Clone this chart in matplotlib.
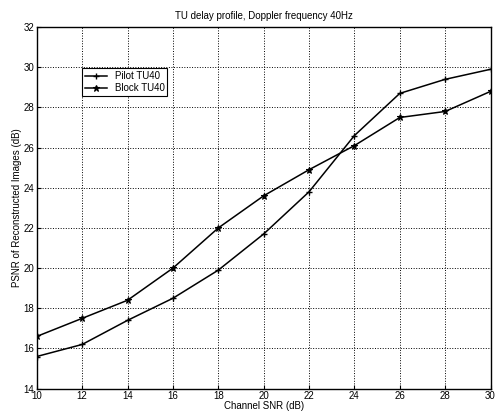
import matplotlib
matplotlib.use('Agg')
import matplotlib.pyplot as plt

snr = [10, 12, 14, 16, 18, 20, 22, 24, 26, 28, 30]
pilot_tu40 = [15.6, 16.2, 17.4, 18.5, 19.9, 21.7, 23.8, 26.6, 28.7, 29.4, 29.9]
block_tu40 = [16.6, 17.5, 18.4, 20.0, 22.0, 23.6, 24.9, 26.1, 27.5, 27.8, 28.8]

plt.rcParams['font.family'] = ['Liberation Sans', 'DejaVu Sans']

fig = plt.figure(figsize=(4.97, 4.17), dpi=100)
ax = fig.add_axes([0.074, 0.068, 0.913, 0.867])

ax.plot(snr, pilot_tu40, color='black', lw=1.1, marker='+', ms=5, mew=1.0, label='Pilot TU40')
ax.plot(snr, block_tu40, color='black', lw=1.1, marker='*', ms=5, mew=0.8, label='Block TU40')

ax.set_xlim(10, 30)
ax.set_ylim(14, 32)
ax.set_xticks(range(10, 31, 2))
ax.set_yticks(range(14, 33, 2))
ax.grid(True, color='black', linestyle=':', linewidth=0.7)
ax.tick_params(direction='in', labelsize=7, length=3, pad=2)
for s in ax.spines.values():
    s.set_linewidth(1.0)

ax.set_title('TU delay profile, Doppler frequency 40Hz', fontsize=7, pad=6)
ax.set_xlabel('Channel SNR (dB)', fontsize=7, labelpad=0)
ax.set_ylabel('PSNR of Reconstructed Images (dB)', fontsize=7, labelpad=1)

leg = ax.legend(loc='upper left', bbox_to_anchor=(0.09, 0.90), fontsize=7,
                fancybox=False, framealpha=1, edgecolor='black',
                borderpad=0.3, handlelength=2.2, labelspacing=0.2)
leg.get_frame().set_linewidth(0.8)

fig.savefig('out.png', dpi=100)
